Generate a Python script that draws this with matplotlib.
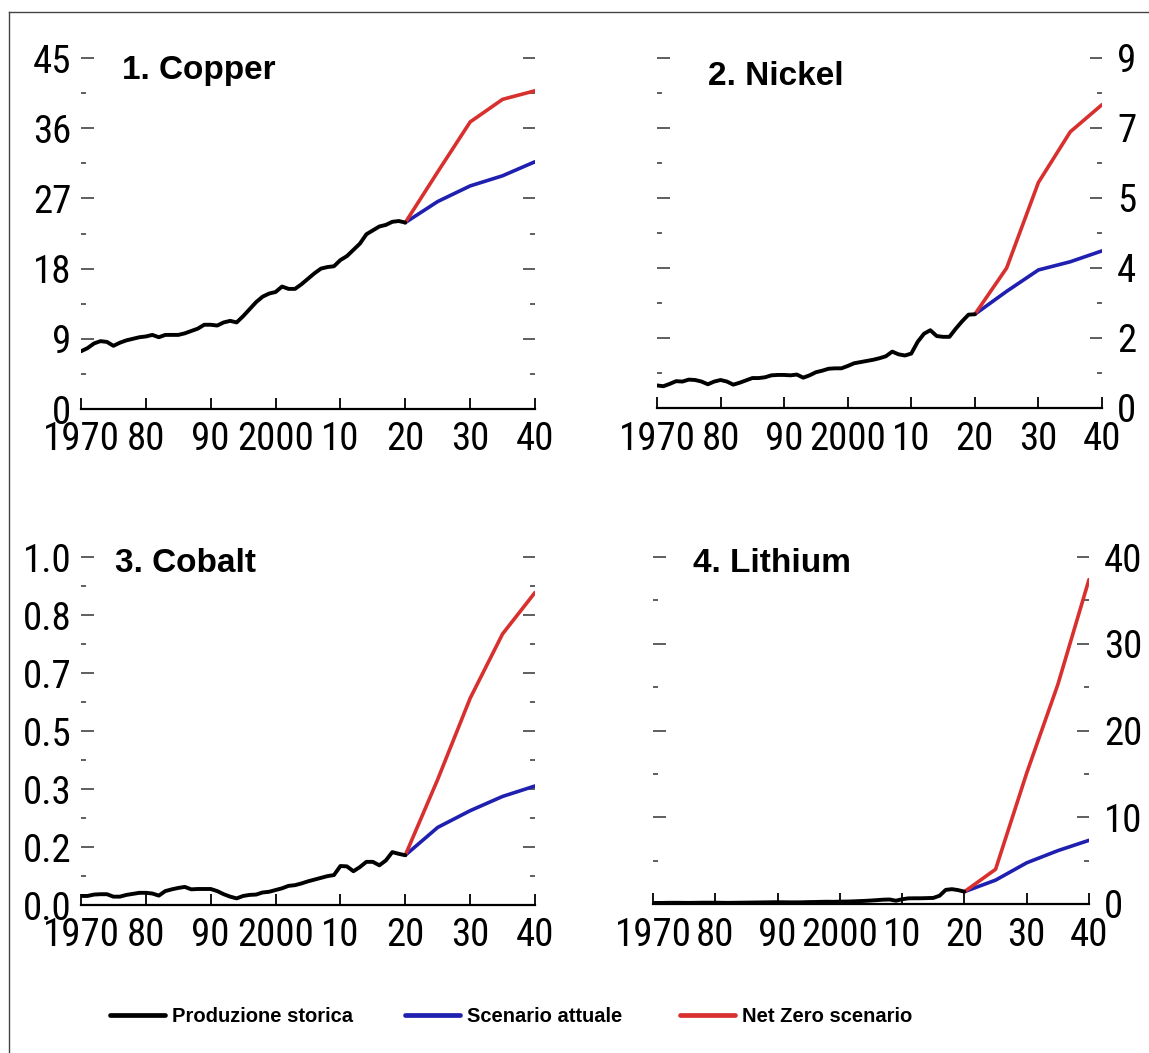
import numpy as np
import matplotlib
matplotlib.use("Agg")
import matplotlib.pyplot as plt
from matplotlib.lines import Line2D
from matplotlib.ticker import FixedLocator
from matplotlib import font_manager as fm

_avail = set(f.name for f in fm.fontManager.ttflist)
FONT = 'DejaVu Sans'
for _cand in ['Liberation Sans Narrow', 'Arial Narrow', 'Roboto Condensed',
              'Archivo Narrow', 'PT Sans Narrow', 'Pragati Narrow']:
    if _cand in _avail:
        FONT = _cand
        break
plt.rcParams['font.family'] = [FONT, 'DejaVu Sans']
if FONT == 'DejaVu Sans':
    plt.rcParams['font.stretch'] = 'condensed'
BOLD_FONT = ['Liberation Sans', 'Arimo', 'DejaVu Sans']

# ---------------- data ----------------
hist_years = list(range(1970, 2021))
proj_years = [2020, 2025, 2030, 2035, 2040]

copper_hist = [7.4, 7.8, 8.4, 8.7, 8.6, 8.1, 8.5, 8.8, 9.0, 9.2,
               9.3, 9.5, 9.2, 9.5, 9.5, 9.5, 9.7, 10.0, 10.3, 10.8,
               10.8, 10.7, 11.1, 11.3, 11.1, 11.9, 12.8, 13.7, 14.4, 14.8,
               15.0, 15.7, 15.4, 15.4, 16.0, 16.7, 17.4, 18.0, 18.2, 18.3,
               19.1, 19.6, 20.4, 21.2, 22.4, 22.9, 23.4, 23.6, 24.0, 24.1, 23.9]
copper_current = [23.9, 26.6, 28.6, 29.9, 31.7]
copper_netzero = [23.9, 30.4, 36.8, 39.7, 40.8]

nickel_hist = [0.58, 0.56, 0.62, 0.69, 0.68, 0.73, 0.72, 0.68, 0.61, 0.68,
               0.72, 0.68, 0.60, 0.65, 0.71, 0.77, 0.77, 0.79, 0.84, 0.85,
               0.85, 0.84, 0.86, 0.78, 0.84, 0.92, 0.96, 1.01, 1.02, 1.02,
               1.08, 1.15, 1.18, 1.21, 1.24, 1.28, 1.33, 1.45, 1.38, 1.35,
               1.40, 1.70, 1.91, 2.00, 1.85, 1.83, 1.83, 2.04, 2.23, 2.40, 2.41]
nickel_current = [2.41, 3.0, 3.55, 3.76, 4.04]
nickel_netzero = [2.41, 3.6, 5.8, 7.1, 7.8]

cobalt_hist = [0.026, 0.026, 0.030, 0.031, 0.031, 0.024, 0.024, 0.029, 0.032, 0.035,
               0.035, 0.033, 0.027, 0.040, 0.045, 0.049, 0.052, 0.045, 0.046, 0.046,
               0.046, 0.040, 0.031, 0.024, 0.019, 0.026, 0.029, 0.030, 0.036, 0.038,
               0.043, 0.048, 0.055, 0.057, 0.062, 0.068, 0.073, 0.078, 0.083, 0.086,
               0.112, 0.111, 0.097, 0.109, 0.124, 0.124, 0.114, 0.128, 0.152, 0.147, 0.143]
cobalt_current = [0.143, 0.223, 0.271, 0.312, 0.342]
cobalt_netzero = [0.143, 0.361, 0.594, 0.779, 0.898]

lithium_hist = [0.12, 0.12, 0.13, 0.14, 0.14, 0.13, 0.13, 0.14, 0.15, 0.15,
                0.15, 0.14, 0.13, 0.14, 0.15, 0.16, 0.17, 0.18, 0.19, 0.20,
                0.21, 0.20, 0.19, 0.19, 0.20, 0.22, 0.23, 0.25, 0.26, 0.25,
                0.27, 0.28, 0.30, 0.33, 0.36, 0.40, 0.45, 0.50, 0.52, 0.38,
                0.55, 0.65, 0.66, 0.66, 0.68, 0.70, 0.95, 1.63, 1.71, 1.60, 1.42]
lithium_current = [1.42, 2.75, 4.75, 6.15, 7.34]
lithium_netzero = [1.42, 4.0, 15.1, 25.3, 37.4]

titles = ['1. Copper', '2. Nickel', '3. Cobalt', '4. Lithium']

x_ticks = [1970, 1980, 1990, 2000, 2010, 2020, 2030, 2040]
x_ticklabels = ['1970', '80', '90', '2000', '10', '20', '30', '40']

copper_yticks = [0, 9, 18, 27, 36, 45]
copper_ylabels = ['0', '9', '18', '27', '36', '45']
nickel_yticks = [0, 1.8, 3.6, 5.4, 7.2, 9.0]
nickel_ylabels = ['0', '2', '4', '5', '7', '9']
cobalt_yticks = [0, 1/6, 2/6, 3/6, 4/6, 5/6, 1.0]
cobalt_ylabels = ['0.0', '0.2', '0.3', '0.5', '0.7', '0.8', '1.0']
lithium_yticks = [0, 10, 20, 30, 40]
lithium_ylabels = ['0', '10', '20', '30', '40']

legend_labels = ['Produzione storica', 'Scenario attuale', 'Net Zero scenario']
legend_x_px = [110, 405, 680]

# ---------------- style ----------------
C_HIST = '#000000'
C_CUR = '#1f1fb0'
C_NZ = '#d8302e'
W, H = 1149, 1053

fig = plt.figure(figsize=(W / 100, H / 100), dpi=100)
fig.patch.set_facecolor('white')


def px_axes(x0, x1, ytop, ybot):
    return fig.add_axes([x0 / W, 1 - ybot / H, (x1 - x0) / W, (ybot - ytop) / H])


panels = [
    dict(rect=(81, 535, 58, 409), hist=copper_hist, cur=copper_current, nz=copper_netzero,
         yt=copper_yticks, yl=copper_ylabels, side='left', title=titles[0], tpos=(122, 79)),
    dict(rect=(657, 1102, 58, 408), hist=nickel_hist, cur=nickel_current, nz=nickel_netzero,
         yt=nickel_yticks, yl=nickel_ylabels, side='right', title=titles[1], tpos=(708, 85)),
    dict(rect=(81, 535, 557, 905), hist=cobalt_hist, cur=cobalt_current, nz=cobalt_netzero,
         yt=cobalt_yticks, yl=cobalt_ylabels, side='left', title=titles[2], tpos=(115, 572)),
    dict(rect=(653, 1089, 557, 904), hist=lithium_hist, cur=lithium_current, nz=lithium_netzero,
         yt=lithium_yticks, yl=lithium_ylabels, side='right', title=titles[3], tpos=(693, 572)),
]

handles = None
for p in panels:
    x0, x1, yt_, yb_ = p['rect']
    ax = px_axes(x0, x1, yt_, yb_)
    h1, = ax.plot(proj_years, p['cur'], color=C_CUR, lw=2.6, solid_capstyle='round', zorder=3)
    h2, = ax.plot(proj_years, p['nz'], color=C_NZ, lw=2.6, solid_capstyle='round', zorder=3)
    h0, = ax.plot(hist_years, p['hist'], color=C_HIST, lw=2.8, solid_capstyle='round',
                  solid_joinstyle='round', zorder=4)
    if handles is None:
        handles = [h0, h1, h2]
    ymax = p['yt'][-1]
    ax.set_xlim(1970, 2040)
    ax.set_ylim(0, ymax)
    for s in ['left', 'right', 'top']:
        ax.spines[s].set_visible(False)
    ax.spines['bottom'].set_linewidth(1.6)
    ax.set_xticks(x_ticks)
    ax.set_xticklabels(x_ticklabels)
    ax.tick_params(axis='x', direction='in', length=8, width=1.3, labelsize=28, pad=9)
    ax.yaxis.set_major_locator(FixedLocator(p['yt']))
    mids = [(a + b) / 2 for a, b in zip(p['yt'][:-1], p['yt'][1:])]
    ax.yaxis.set_minor_locator(FixedLocator(mids))
    ax.set_yticklabels(p['yl'])
    left_lab = p['side'] == 'left'
    ax.tick_params(axis='y', which='both', direction='in', left=True, right=True,
                   labelleft=left_lab, labelright=not left_lab, color='#333333')
    ax.tick_params(axis='y', which='major', length=9, width=1.1, labelsize=28,
                   pad=7 if left_lab else 11)
    ax.tick_params(axis='y', which='minor', length=3.5, width=1.1)
    tx, ty = p['tpos']
    fig.text(tx / W, 1 - ty / H, p['title'], fontsize=24, fontweight='bold',
             family=BOLD_FONT, ha='left', va='baseline')
    ax.set_facecolor('none')

for hnd, lab, lx in zip(handles, legend_labels, legend_x_px):
    leg = fig.legend([hnd], [lab], loc='center left', bbox_to_anchor=(lx / W, 1 - 1017 / H),
                     frameon=False, handlelength=2.75, handletextpad=0.35, borderpad=0,
                     borderaxespad=0,
                     prop={'size': 14.5, 'weight': 'bold', 'family': BOLD_FONT})
    for line in leg.get_lines():
        line.set_linewidth(3.4)

# frame lines (top and left)
fig.add_artist(Line2D([9 / W, 9 / W], [0, 1 - 12 / H], color='#444444', lw=1.0,
                      transform=fig.transFigure))
fig.add_artist(Line2D([9 / W, 1], [1 - 12 / H, 1 - 12 / H], color='#444444', lw=1.0,
                      transform=fig.transFigure))

fig.savefig('out.png', dpi=100, facecolor='white')
